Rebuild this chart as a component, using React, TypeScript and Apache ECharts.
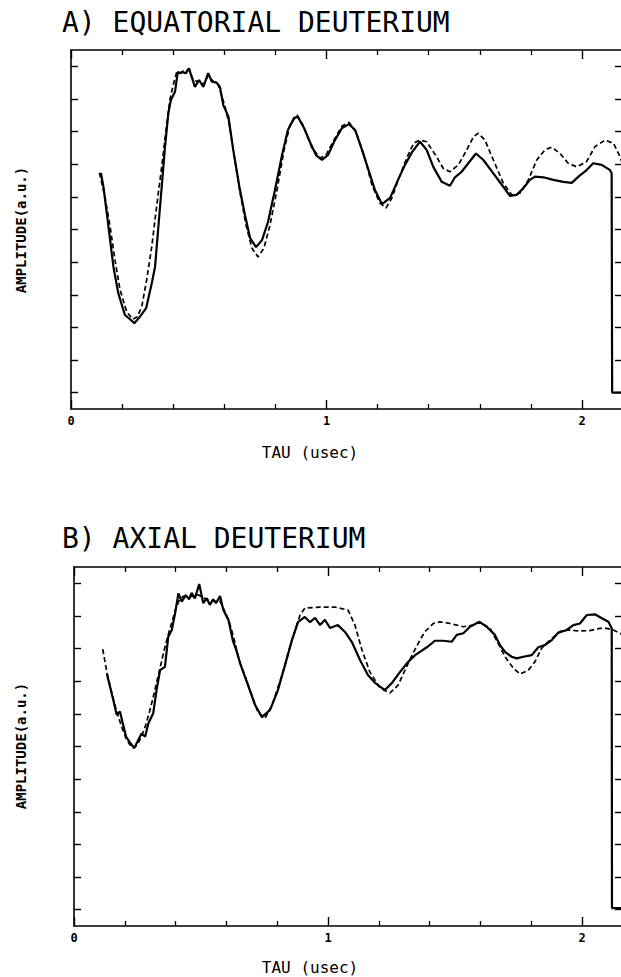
import React, { useEffect, useRef } from "react";
import * as echarts from "echarts";

// tick labels / tick positions
const xLabelTicks = [0, 1, 2];
const yTickValues = [0, 1, 2, 3, 4, 5, 6, 7, 8, 9, 10];

const titleA = "A) EQUATORIAL DEUTERIUM";
const titleB = "B) AXIAL DEUTERIUM";
const xName = "TAU (usec)";
const yName = "AMPLITUDE(a.u.)";

// [tau (usec), amplitude (a.u., tick units)]
const topSolid: [number, number][] = [
  [0.117, 6.73], [0.127, 6.31], [0.14, 5.5], [0.153, 4.68], [0.166, 3.86], [0.185, 3.05],
  [0.211, 2.38], [0.231, 2.25], [0.248, 2.13], [0.27, 2.33], [0.294, 2.59], [0.316, 3.35],
  [0.329, 3.86], [0.342, 5.09], [0.355, 6.31], [0.368, 7.54], [0.381, 8.56], [0.391, 8.97],
  [0.407, 9.22], [0.418, 9.83], [0.427, 9.79], [0.437, 9.82], [0.45, 9.79], [0.462, 9.94],
  [0.472, 9.68], [0.485, 9.37], [0.501, 9.58], [0.518, 9.37], [0.537, 9.79], [0.551, 9.53],
  [0.57, 9.5], [0.583, 9.37], [0.596, 8.81], [0.616, 8.46], [0.635, 7.44], [0.659, 6.31],
  [0.681, 5.44], [0.701, 4.74], [0.724, 4.46], [0.748, 4.68], [0.771, 5.23], [0.798, 6.2],
  [0.826, 7.28], [0.849, 8.05], [0.873, 8.42], [0.888, 8.45], [0.912, 8.11], [0.935, 7.68],
  [0.959, 7.28], [0.982, 7.13], [1.006, 7.28], [1.033, 7.74], [1.061, 8.11], [1.088, 8.23],
  [1.112, 8.05], [1.139, 7.44], [1.162, 6.88], [1.19, 6.2], [1.217, 5.78], [1.249, 5.97],
  [1.28, 6.52], [1.307, 6.98], [1.335, 7.37], [1.366, 7.69], [1.392, 7.44], [1.418, 6.92],
  [1.451, 6.46], [1.483, 6.34], [1.503, 6.6], [1.529, 6.77], [1.555, 7.03], [1.585, 7.33],
  [1.614, 7.13], [1.653, 6.72], [1.692, 6.31], [1.718, 6.03], [1.744, 6.06], [1.77, 6.26],
  [1.796, 6.52], [1.816, 6.62], [1.849, 6.6], [1.888, 6.52], [1.927, 6.46], [1.96, 6.43],
  [1.986, 6.62], [2.018, 6.82], [2.044, 7.03], [2.077, 6.98], [2.11, 6.82], [2.116, 6.72],
  [2.118, 0], [2.17, 0],
];

const topDashed: [number, number][] = [
  [0.111, 6.74], [0.133, 6.0], [0.153, 5.09], [0.172, 4.07], [0.192, 3.15], [0.218, 2.48],
  [0.241, 2.25], [0.26, 2.33], [0.277, 2.64], [0.296, 3.45], [0.316, 4.47], [0.335, 5.7],
  [0.355, 6.92], [0.372, 8.05], [0.387, 8.97], [0.4, 9.43], [0.414, 9.83], [0.427, 9.8],
  [0.445, 9.88], [0.462, 9.9], [0.48, 9.55], [0.5, 9.55], [0.52, 9.45], [0.537, 9.72],
  [0.555, 9.55], [0.575, 9.45], [0.59, 9.1], [0.605, 8.7], [0.62, 8.2], [0.64, 7.2],
  [0.66, 6.2], [0.685, 5.14], [0.708, 4.43], [0.732, 4.16], [0.755, 4.43], [0.779, 5.14],
  [0.806, 6.2], [0.834, 7.44], [0.857, 8.2], [0.885, 8.51], [0.912, 8.14], [0.943, 7.5],
  [0.975, 7.19], [0.998, 7.28], [1.029, 7.74], [1.061, 8.17], [1.088, 8.29], [1.115, 7.99],
  [1.147, 7.28], [1.178, 6.36], [1.209, 5.81], [1.233, 5.66], [1.256, 5.97], [1.288, 6.67],
  [1.319, 7.28], [1.342, 7.65], [1.366, 7.74], [1.392, 7.69], [1.431, 7.23], [1.457, 6.87],
  [1.483, 6.77], [1.516, 6.98], [1.549, 7.44], [1.575, 7.84], [1.594, 7.95], [1.62, 7.74],
  [1.653, 7.13], [1.692, 6.42], [1.725, 6.06], [1.757, 6.11], [1.79, 6.52], [1.823, 7.13],
  [1.855, 7.44], [1.881, 7.52], [1.914, 7.33], [1.946, 7.03], [1.979, 6.92], [2.018, 7.08],
  [2.051, 7.54], [2.09, 7.74], [2.123, 7.64], [2.149, 7.23], [2.164, 6.88],
];

const bottomSolid: [number, number][] = [
  [0.129, 7.24], [0.142, 6.83], [0.155, 6.42], [0.168, 5.97], [0.181, 6.07], [0.192, 5.71],
  [0.205, 5.3], [0.218, 5.15], [0.237, 4.95], [0.253, 5.2], [0.266, 5.4], [0.28, 5.3],
  [0.293, 5.71], [0.312, 6.02], [0.325, 6.73], [0.339, 7.34], [0.358, 7.44], [0.371, 8.36],
  [0.385, 8.57], [0.398, 9.08], [0.411, 9.69], [0.424, 9.44], [0.44, 9.64], [0.453, 9.51],
  [0.463, 9.71], [0.476, 9.54], [0.493, 9.98], [0.509, 9.39], [0.522, 9.54], [0.535, 9.34],
  [0.548, 9.51], [0.559, 9.39], [0.575, 9.61], [0.588, 9.18], [0.608, 8.88], [0.625, 8.26],
  [0.641, 7.9], [0.654, 7.55], [0.685, 6.88], [0.713, 6.27], [0.74, 5.9], [0.772, 6.12],
  [0.803, 6.73], [0.831, 7.5], [0.858, 8.26], [0.882, 8.81], [0.909, 8.97], [0.929, 8.81],
  [0.949, 8.94], [0.969, 8.72], [0.988, 8.88], [1.008, 8.63], [1.039, 8.72], [1.067, 8.51],
  [1.094, 8.2], [1.126, 7.65], [1.157, 7.19], [1.185, 6.95], [1.224, 6.73], [1.252, 6.95],
  [1.283, 7.28], [1.315, 7.59], [1.343, 7.8], [1.362, 7.9], [1.389, 8.04], [1.421, 8.24],
  [1.454, 8.24], [1.487, 8.21], [1.507, 8.42], [1.533, 8.47], [1.559, 8.67], [1.596, 8.82],
  [1.625, 8.67], [1.657, 8.42], [1.677, 8.11], [1.697, 7.9], [1.723, 7.75], [1.743, 7.7],
  [1.769, 7.75], [1.802, 7.8], [1.828, 8.04], [1.854, 8.11], [1.881, 8.26], [1.907, 8.49],
  [1.94, 8.57], [1.966, 8.72], [1.992, 8.77], [2.019, 9.03], [2.051, 9.05], [2.078, 8.93],
  [2.104, 8.82], [2.117, 8.62], [2.118, 0.05], [2.17, 0.05],
];

const bottomDashed: [number, number][] = [
  [0.113, 7.98], [0.129, 7.3], [0.145, 6.75], [0.16, 6.3], [0.175, 5.9], [0.19, 5.55],
  [0.205, 5.25], [0.22, 5.05], [0.235, 4.95], [0.25, 5.05], [0.265, 5.3], [0.28, 5.6],
  [0.295, 6.0], [0.31, 6.45], [0.325, 6.95], [0.34, 7.45], [0.355, 7.95], [0.37, 8.4],
  [0.385, 8.8], [0.4, 9.2], [0.415, 9.5], [0.43, 9.6], [0.45, 9.6], [0.47, 9.6],
  [0.49, 9.65], [0.51, 9.55], [0.53, 9.5], [0.55, 9.45], [0.575, 9.45], [0.59, 9.2],
  [0.61, 8.85], [0.63, 8.3], [0.65, 7.65], [0.693, 6.73], [0.724, 6.05], [0.752, 5.87],
  [0.78, 6.27], [0.819, 7.19], [0.858, 8.26], [0.89, 9.03], [0.909, 9.24], [0.969, 9.27],
  [1.028, 9.27], [1.079, 9.18], [1.106, 8.72], [1.134, 7.95], [1.165, 7.28], [1.205, 6.79],
  [1.244, 6.64], [1.276, 6.88], [1.303, 7.34], [1.331, 7.8], [1.362, 8.26], [1.382, 8.52],
  [1.415, 8.77], [1.441, 8.82], [1.48, 8.77], [1.533, 8.67], [1.572, 8.72], [1.596, 8.82],
  [1.638, 8.62], [1.67, 8.16], [1.697, 7.75], [1.73, 7.4], [1.756, 7.22], [1.789, 7.34],
  [1.815, 7.6], [1.841, 8.01], [1.874, 8.26], [1.913, 8.52], [1.946, 8.57], [1.985, 8.54],
  [2.031, 8.55], [2.071, 8.62], [2.097, 8.62], [2.123, 8.57], [2.15, 8.47], [2.165, 8.39],
];

const MONO = "'DejaVu Sans Mono', 'Liberation Mono', monospace";

export default function App() {
  const ref = useRef<HTMLDivElement>(null);

  useEffect(() => {
    if (!ref.current) return;
    const chart = echarts.init(ref.current, null, { renderer: "svg" });

    const black = "#000";
    const axisLine = { show: true, onZero: false, lineStyle: { color: black, width: 1.6 } };

    // plot boxes: right border sits just past the page edge (x = 622)
    const grids = [
      { left: 71, top: 50, width: 3 * 255.5, height: 359, right: 622 },
      { left: 74, top: 567, width: 3 * 254, height: 359, right: 622 },
    ];

    const xAxes: any[] = [];
    const yAxes: any[] = [];
    grids.forEach((g, gi) => {
      ["bottom", "top"].forEach((pos) => {
        xAxes.push({
          type: "value",
          gridIndex: gi,
          position: pos,
          min: 0,
          max: 3,
          interval: 1,
          axisLine,
          axisTick: { show: true, inside: true, length: 9, lineStyle: { color: black, width: 1.4 } },
          minorTick: { show: true, splitNumber: 5, length: 5, lineStyle: { color: black, width: 1.3 } },
          axisLabel: {
            show: pos === "bottom",
            margin: 6,
            color: black,
            fontFamily: MONO,
            fontWeight: "bold",
            fontSize: 12,
            formatter: (v: number) => (xLabelTicks.indexOf(v) >= 0 ? String(v) : ""),
          },
          splitLine: { show: false },
          minorSplitLine: { show: false },
        });
      });
      ["left", "right"].forEach((pos) => {
        yAxes.push({
          type: "value",
          gridIndex: gi,
          position: pos,
          offset: pos === "right" ? -(g.left + g.width - g.right) : 0,
          min: -0.5,
          max: 10.5,
          axisLine,
          axisTick: {
            show: true,
            inside: true,
            length: 7,
            customValues: yTickValues,
            lineStyle: { color: black, width: 1.4 },
          },
          axisLabel: { show: false },
          splitLine: { show: false },
        });
      });
    });

    const solid = { color: black, width: 2.2 };
    const dashed = { color: black, width: 1.7, type: [5, 3] as number[] };

    const mkSeries = (data: [number, number][], axisIdx: number, style: any) => ({
      type: "line",
      xAxisIndex: axisIdx,
      yAxisIndex: axisIdx,
      data,
      showSymbol: false,
      symbol: "none",
      smooth: false,
      lineStyle: style,
      silent: true,
    });

    const textStyle = (text: string, fontSize: number, extra: any = {}) => ({
      text,
      fontSize,
      fontFamily: MONO,
      fill: black,
      ...extra,
    });

    chart.setOption({
      animation: false,
      backgroundColor: "#fff",
      grid: grids.map((g) => ({
        left: g.left,
        top: g.top,
        width: g.width,
        height: g.height,
        containLabel: false,
        outerBoundsMode: "none",
      })),
      xAxis: xAxes,
      yAxis: yAxes,
      series: [
        mkSeries(topSolid, 0, solid),
        mkSeries(topDashed, 0, dashed),
        mkSeries(bottomSolid, 2, solid),
        mkSeries(bottomDashed, 2, dashed),
      ],
      graphic: [
        { type: "text", x: 62, y: 22, style: textStyle(titleA, 28, { align: "left", verticalAlign: "middle" }) },
        { type: "text", x: 62, y: 538, style: textStyle(titleB, 28, { align: "left", verticalAlign: "middle" }) },
        { type: "text", x: 310, y: 452, style: textStyle(xName, 16, { align: "center", verticalAlign: "middle" }) },
        { type: "text", x: 310, y: 967, style: textStyle(xName, 16, { align: "center", verticalAlign: "middle" }) },
        {
          type: "text", x: 21, y: 230, rotation: Math.PI / 2,
          style: textStyle(yName, 14, { align: "center", verticalAlign: "middle", fontWeight: "bold" }),
        },
        {
          type: "text", x: 21, y: 746, rotation: Math.PI / 2,
          style: textStyle(yName, 14, { align: "center", verticalAlign: "middle", fontWeight: "bold" }),
        },
      ],
    });

    return () => chart.dispose();
  }, []);

  return (
    <div
      ref={ref}
      style={{ position: "fixed", left: 0, top: 0, width: 621, height: 977, background: "#fff" }}
    />
  );
}
